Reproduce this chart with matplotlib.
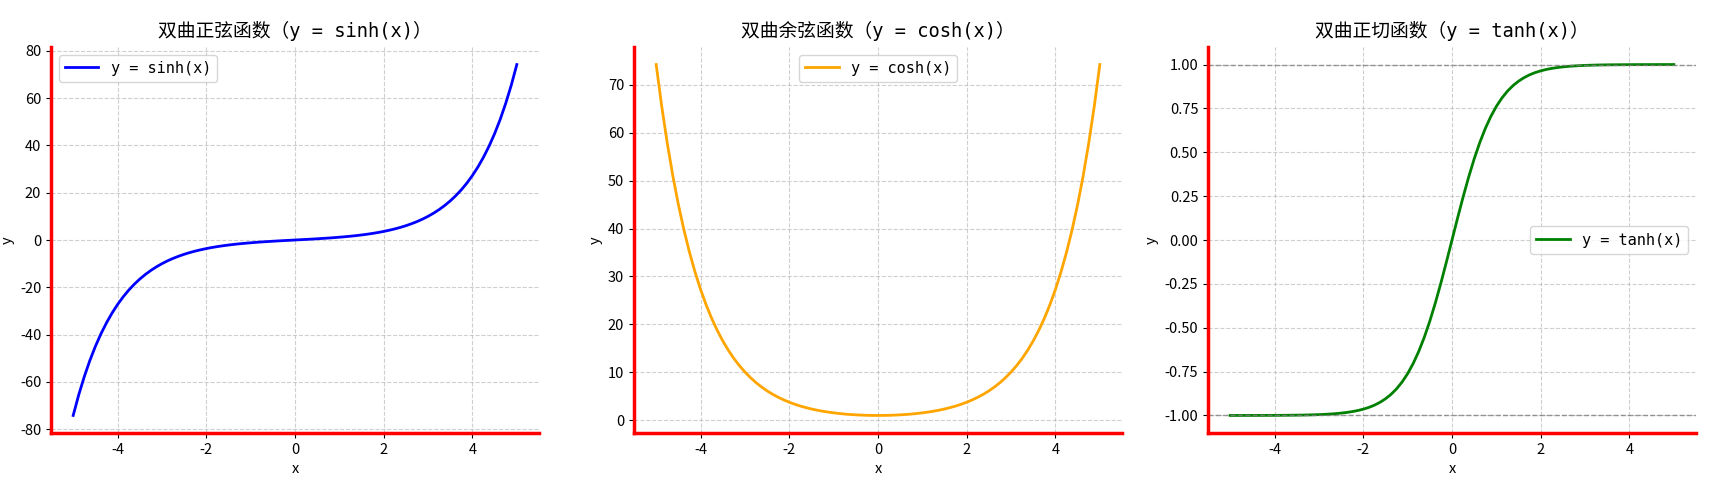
import matplotlib
matplotlib.use("Agg")
import matplotlib.pyplot as plt

plt.rcParams['font.family'] = ['Noto Sans CJK SC', 'DejaVu Sans']
plt.rcParams['axes.unicode_minus'] = False

x_vals = [-5.0, -4.875, -4.75, -4.625, -4.5, -4.375, -4.25, -4.125, -4.0, -3.875,
          -3.75, -3.625, -3.5, -3.375, -3.25, -3.125, -3.0, -2.875, -2.75, -2.625,
          -2.5, -2.375, -2.25, -2.125, -2.0, -1.875, -1.75, -1.625, -1.5, -1.375,
          -1.25, -1.125, -1.0, -0.875, -0.75, -0.625, -0.5, -0.375, -0.25, -0.125,
          0.0,
          0.125, 0.25, 0.375, 0.5, 0.625, 0.75, 0.875, 1.0, 1.125, 1.25,
          1.375, 1.5, 1.625, 1.75, 1.875, 2.0, 2.125, 2.25, 2.375, 2.5,
          2.625, 2.75, 2.875, 3.0, 3.125, 3.25, 3.375, 3.5, 3.625, 3.75,
          3.875, 4.0, 4.125, 4.25, 4.375, 4.5, 4.625, 4.75, 4.875, 5.0]

sinh_vals = [-74.20, -65.48, -57.80, -51.00, -45.00, -39.72, -35.05, -30.93, -27.29, -24.08,
             -21.25, -18.75, -16.54, -14.60, -12.88, -11.36, -10.02, -8.83, -7.79, -6.87,
             -6.05, -5.33, -4.69, -4.13, -3.63, -3.18, -2.79, -2.44, -2.13, -1.85,
             -1.60, -1.38, -1.18, -0.99, -0.82, -0.67, -0.52, -0.38, -0.25, -0.13,
             0.0,
             0.13, 0.25, 0.38, 0.52, 0.67, 0.82, 0.99, 1.18, 1.38, 1.60,
             1.85, 2.13, 2.44, 2.79, 3.18, 3.63, 4.13, 4.69, 5.33, 6.05,
             6.87, 7.79, 8.83, 10.02, 11.36, 12.88, 14.60, 16.54, 18.75, 21.25,
             24.08, 27.29, 30.93, 35.05, 39.72, 45.00, 51.00, 57.80, 65.48, 74.20]

cosh_vals = [74.21, 65.49, 57.81, 51.01, 45.01, 39.73, 35.06, 30.94, 27.31, 24.10,
             21.27, 18.78, 16.57, 14.63, 12.91, 11.40, 10.07, 8.89, 7.85, 6.94,
             6.13, 5.42, 4.80, 4.25, 3.76, 3.34, 2.96, 2.64, 2.35, 2.10,
             1.89, 1.70, 1.54, 1.41, 1.29, 1.20, 1.13, 1.07, 1.03, 1.01,
             1.0,
             1.01, 1.03, 1.07, 1.13, 1.20, 1.29, 1.41, 1.54, 1.70, 1.89,
             2.10, 2.35, 2.64, 2.96, 3.34, 3.76, 4.25, 4.80, 5.42, 6.13,
             6.94, 7.85, 8.89, 10.07, 11.40, 12.91, 14.63, 16.57, 18.78, 21.27,
             24.10, 27.31, 30.94, 35.06, 39.73, 45.01, 51.01, 57.81, 65.49, 74.21]

tanh_vals = [-0.9999, -0.9999, -0.9999, -0.9998, -0.9998, -0.9997, -0.9996, -0.9995, -0.9993, -0.9991,
             -0.9989, -0.9986, -0.9982, -0.9977, -0.9970, -0.9961, -0.9951, -0.9937, -0.9919, -0.9896,
             -0.9866, -0.9828, -0.9780, -0.9719, -0.9640, -0.9541, -0.9414, -0.9253, -0.9051, -0.8798,
             -0.8483, -0.8093, -0.7616, -0.7039, -0.6351, -0.5546, -0.4621, -0.3584, -0.2449, -0.1244,
             0.0,
             0.1244, 0.2449, 0.3584, 0.4621, 0.5546, 0.6351, 0.7039, 0.7616, 0.8093, 0.8483,
             0.8798, 0.9051, 0.9253, 0.9414, 0.9541, 0.9640, 0.9719, 0.9780, 0.9828, 0.9866,
             0.9896, 0.9919, 0.9937, 0.9951, 0.9961, 0.9970, 0.9977, 0.9982, 0.9986, 0.9989,
             0.9991, 0.9993, 0.9995, 0.9996, 0.9997, 0.9998, 0.9998, 0.9999, 0.9999, 0.9999]

titles = ['双曲正弦函数（y = sinh(x)）', '双曲余弦函数（y = cosh(x)）', '双曲正切函数（y = tanh(x)）']
labels = ['y = sinh(x)', 'y = cosh(x)', 'y = tanh(x)']
colors = ['blue', 'orange', 'green']
legend_locs = ['upper left', 'upper center', 'center right']
series = [sinh_vals, cosh_vals, tanh_vals]
asymptotes = [1.0, -1.0]

mono = ['DejaVu Sans Mono', 'Noto Sans CJK SC']

fig = plt.figure(figsize=(17.2, 4.96), dpi=100)
W, H = 1720.0, 496.0
lefts = [51, 634, 1208]
axw = 488
bottom_px, top_px = 433, 47

for i in range(3):
    ax = fig.add_axes([lefts[i] / W, 1 - bottom_px / H, axw / W, (bottom_px - top_px) / H])
    ax.plot(x_vals, series[i], color=colors[i], linewidth=2, label=labels[i])
    if i == 2:
        for a in asymptotes:
            ax.axhline(a, color='gray', linestyle='--', linewidth=1, alpha=0.8)
    ax.set_title(titles[i], fontsize=13.5, family=mono, pad=7)
    ax.set_xlabel('x', fontsize=10.5)
    ax.set_ylabel('y', fontsize=10.5)
    ax.grid(True, linestyle='--', alpha=0.6)
    ax.legend(loc=legend_locs[i], prop={'family': mono, 'size': 11}, handlelength=2.2)
    ax.spines['top'].set_visible(False)
    ax.spines['right'].set_visible(False)
    ax.spines['left'].set_color('red')
    ax.spines['bottom'].set_color('red')
    ax.spines['left'].set_linewidth(2.5)
    ax.spines['bottom'].set_linewidth(2.5)
    ax.tick_params(labelsize=10.5)

fig.savefig('out.png', dpi=100)
